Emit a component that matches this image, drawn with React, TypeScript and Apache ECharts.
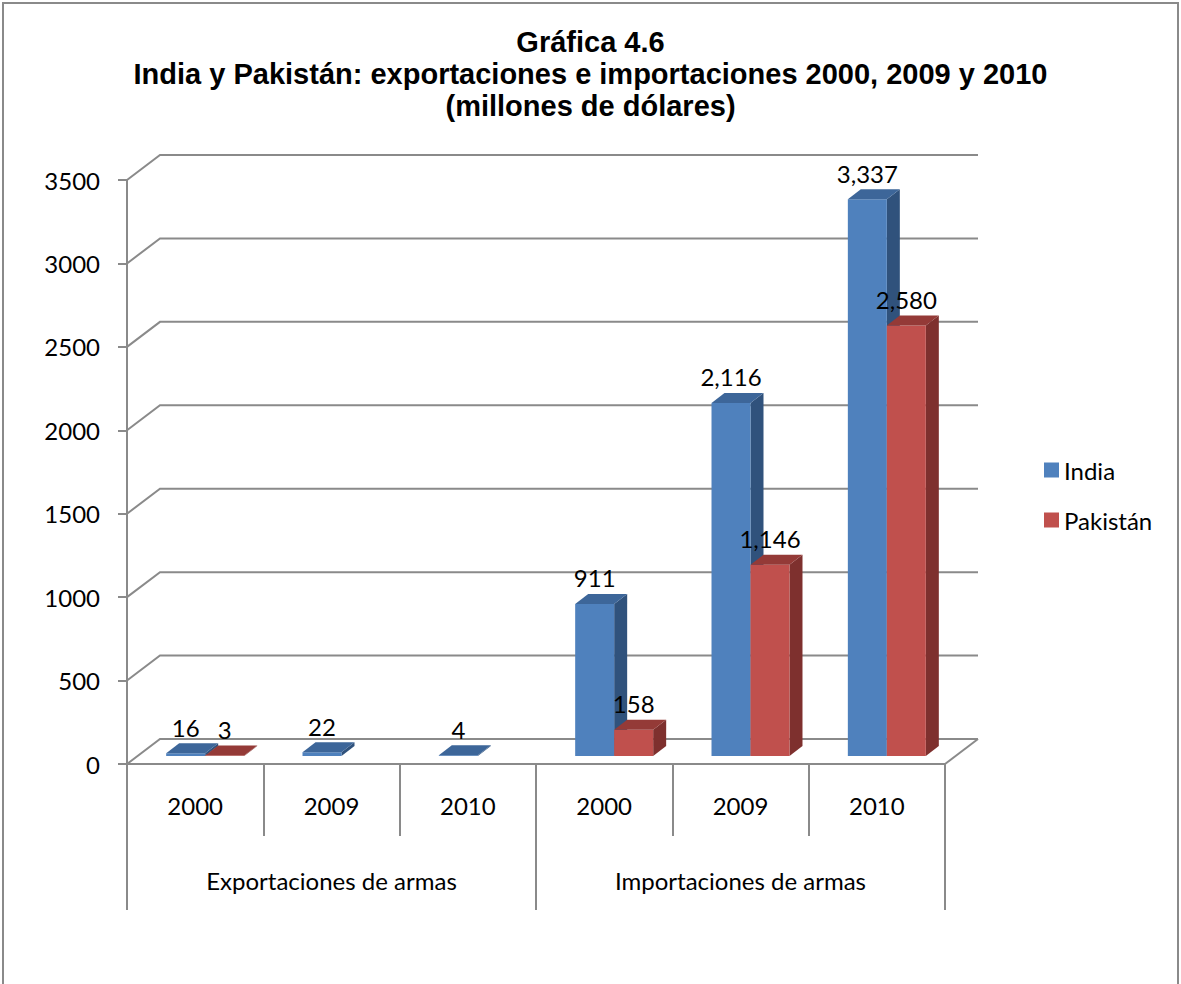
import React, { useEffect, useRef } from "react";
import * as echarts from "echarts";

const years = ["2000", "2009", "2010", "2000", "2009", "2010"];
const groups = ["Exportaciones de armas", "Importaciones de armas"];
const seriesNames = ["India", "Pakistán"];
const india: (number | null)[] = [16, 22, 4, 911, 2116, 3337];
const pakistan: (number | null)[] = [3, null, null, 158, 1146, 2580];
const yTicks = [0, 500, 1000, 1500, 2000, 2500, 3000, 3500];
const titleText = "Gráfica 4.6\nIndia y Pakistán: exportaciones e importaciones 2000, 2009 y 2010\n(millones de dólares)";

const GRID = "#8a8a8a";
const FONT = "Lato, 'Open Sans', sans-serif";
const FS = 24;
// 3D look (layout only)
const DX = 33, DY = 25; // wall depth
const FX = 10, FY = 8; // bar front plane offset
const BX = 13, BY = 10; // bar depth
const BAR_FRAC = 0.286;

const palettes = [
  { front: "#4F81BD", side: "#30527C", top: "#3D6699" },
  { front: "#C0504D", side: "#7E302E", top: "#943A37" },
];

function fmt(v: number) {
  return v.toLocaleString("en-US");
}

function makeBarRender(k: number) {
  return (params: any, api: any) => {
    const i = api.value(0);
    const v = api.value(1);
    const base = api.coord([i, 0]);
    const top = api.coord([i, v]);
    const bw = api.size([1, 0])[0];
    const w = bw * BAR_FRAC;
    const cx = base[0] + FX;
    const xl = k === 0 ? cx - w : cx;
    const xr = xl + w;
    const yb = base[1] - FY;
    const yt = top[1] - FY;
    const c = palettes[k];
    return {
      type: "group",
      children: [
        {
          type: "polygon",
          shape: { points: [[xr, yb], [xr + BX, yb - BY], [xr + BX, yt - BY], [xr, yt]] },
          style: { fill: c.side },
        },
        {
          type: "rect",
          shape: { x: xl, y: yt, width: w, height: Math.max(yb - yt, 0.5) },
          style: { fill: c.front },
        },
        {
          type: "polygon",
          shape: { points: [[xl, yt], [xl + BX, yt - BY], [xr + BX, yt - BY], [xr, yt]] },
          style: { fill: c.top },
        },
        {
          type: "text",
          x: (xl + xr) / 2,
          y: yt - 26,
          style: {
            text: fmt(v),
            fill: "#000",
            font: `${FS}px ${FONT}`,
            align: "center",
            verticalAlign: "middle",
          },
        },
      ],
    };
  };
}

const wallRender = (params: any, api: any) => {
  const v = api.value(1);
  const p = api.coord([0, v]);
  const bw = api.size([1, 0])[0];
  const x0 = p[0] - bw / 2;
  const y = p[1];
  const W = bw * years.length;
  const children: any[] = [
    {
      type: "polyline",
      shape: { points: [[x0, y], [x0 + DX, y - DY], [x0 + DX + W, y - DY]] },
      style: { stroke: GRID, lineWidth: 2, fill: null },
    },
  ];
  if (v === 0) {
    children.push({
      type: "line",
      shape: { x1: x0 + W, y1: y, x2: x0 + W + DX, y2: y - DY },
      style: { stroke: GRID, lineWidth: 2 },
    });
  }
  return { type: "group", children };
};

export default function App() {
  const ref = useRef<HTMLDivElement>(null);
  useEffect(() => {
    const chart = echarts.init(ref.current!, undefined, { renderer: "svg" });
    const axisLabelStyle = { fontSize: FS, fontFamily: FONT, color: "#000" };
    chart.setOption({
      animation: false,
      backgroundColor: "#fff",
      title: {
        text: titleText,
        left: "center",
        top: 21,
        textStyle: {
          fontFamily: "'Liberation Sans', Arial, sans-serif",
          fontWeight: "bold",
          fontSize: 29,
          lineHeight: 32,
          color: "#000",
        },
      },
      legend: {
        orient: "vertical",
        left: 1039,
        top: 453,
        itemWidth: 15,
        itemHeight: 15,
        itemGap: 26,
        data: seriesNames.map((n) => ({ name: n, icon: "rect" })),
        textStyle: { ...axisLabelStyle, lineHeight: 24 },
      },
      grid: { left: 127, top: 180, width: 818, height: 584 },
      xAxis: [
        {
          type: "category",
          data: years,
          position: "bottom",
          axisLine: { show: true, lineStyle: { color: GRID, width: 2 } },
          axisTick: { show: true, length: 72, interval: 0, lineStyle: { color: GRID, width: 2 } },
          axisLabel: { ...axisLabelStyle, margin: 29, interval: 0 },
          splitLine: { show: false },
        },
        {
          type: "category",
          data: groups,
          position: "bottom",
          axisLine: { show: false },
          axisTick: { show: true, length: 146, interval: 0, lineStyle: { color: GRID, width: 2 } },
          axisLabel: { ...axisLabelStyle, margin: 104, interval: 0 },
          splitLine: { show: false },
        },
      ],
      yAxis: {
        type: "value",
        min: 0,
        max: 3500,
        interval: 500,
        axisLine: { show: true, lineStyle: { color: GRID, width: 2 } },
        axisTick: { show: true, length: 9, lineStyle: { color: GRID, width: 2 } },
        axisLabel: { ...axisLabelStyle, margin: 27, formatter: (v: number) => String(v) },
        splitLine: { show: false },
      },
      graphic: [
        {
          type: "rect",
          shape: { x: 3, y: 3, width: 1175, height: 1020 },
          style: { stroke: "#8a8a8a", lineWidth: 2, fill: "none" },
          silent: true,
        },
      ],
      series: [
        {
          type: "custom",
          name: "walls",
          xAxisIndex: 0,
          z: 1,
          clip: false,
          silent: true,
          renderItem: wallRender,
          data: yTicks.map((t) => [0, t]),
        },
        {
          type: "custom",
          name: seriesNames[0],
          xAxisIndex: 0,
          z: 3,
          clip: false,
          itemStyle: { color: palettes[0].front },
          renderItem: makeBarRender(0),
          data: india.map((v, i) => [i, v]).filter((d) => d[1] != null),
        },
        {
          type: "custom",
          name: seriesNames[1],
          xAxisIndex: 0,
          z: 4,
          clip: false,
          itemStyle: { color: palettes[1].front },
          renderItem: makeBarRender(1),
          data: pakistan.map((v, i) => [i, v]).filter((d) => d[1] != null),
        },
      ],
    });
    return () => chart.dispose();
  }, []);
  return (
    <div
      ref={ref}
      style={{ position: "fixed", left: 0, top: 0, width: 1181, height: 984 }}
    />
  );
}
